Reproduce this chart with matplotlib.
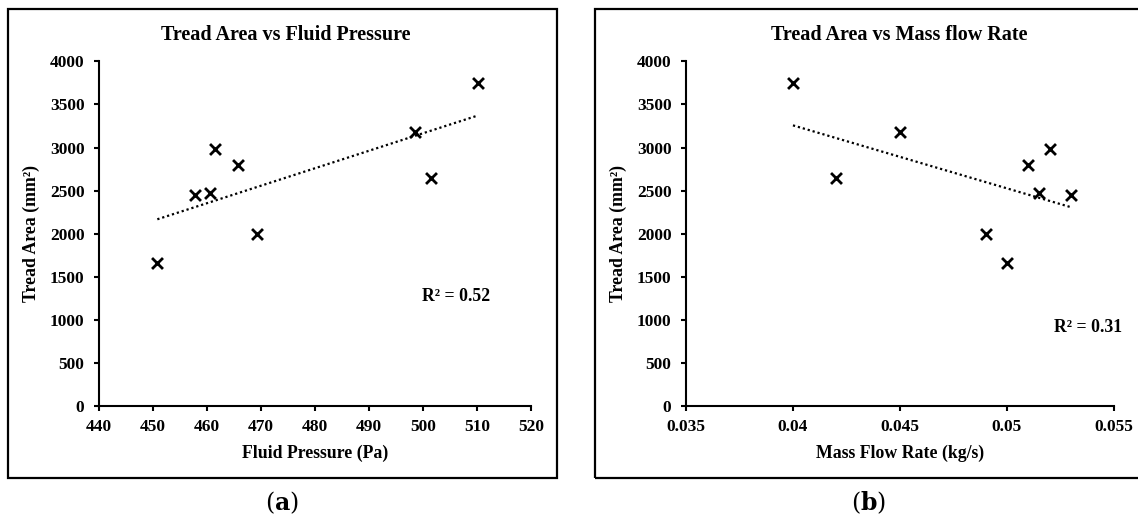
import matplotlib
matplotlib.use("Agg")
import matplotlib.pyplot as plt
import numpy as np
from matplotlib.patches import Rectangle

# values
tread_area = [1666, 2446, 2473, 2980, 2802, 2002, 3181, 2647, 3749]
fluid_pressure = [450.8, 457.7, 460.6, 461.5, 465.8, 469.3, 498.5, 501.5, 510.2]
mass_flow = [0.050, 0.053, 0.0515, 0.052, 0.051, 0.049, 0.045, 0.042, 0.040]

r2_pressure = "R² = 0.52"
r2_flow = "R² = 0.31"

plt.rcParams["font.family"] = ["Liberation Serif", "DejaVu Serif"]
plt.rcParams["font.weight"] = "bold"
plt.rcParams["axes.labelweight"] = "bold"
plt.rcParams["mathtext.fontset"] = "dejavuserif"


def draw_panel(fig, rect, frame, x, y, title, title_x, xlabel, xticks, xlim, r2_text, r2_pos, tag, tag_x):
    ax = fig.add_axes(rect)
    ax.scatter(x, y, marker="x", s=62, color="black", linewidths=2, zorder=3)

    # linear trend line over the data range
    coef = np.polyfit(x, y, 1)
    xs = np.array([min(x), max(x)])
    ax.plot(xs, np.polyval(coef, xs), color="black", lw=1.6, linestyle=(0, (1, 1.3)))

    ax.set_xlim(*xlim)
    ax.set_ylim(0, 4000)
    ax.set_xticks(xticks)
    ax.set_yticks(range(0, 4001, 500))
    ax.set_xticklabels([f"{t:g}" for t in xticks])
    for s in ("top", "right"):
        ax.spines[s].set_visible(False)
    for s in ("left", "bottom"):
        ax.spines[s].set_linewidth(1.5)
    ax.tick_params(direction="out", length=3.5, width=1.5, labelsize=12.5)
    ax.tick_params(axis="x", pad=6)
    ax.tick_params(axis="y", pad=7)
    for lab in ax.get_xticklabels() + ax.get_yticklabels():
        lab.set_fontweight("bold")

    ax.set_title(title, fontsize=14.5, fontweight="bold", x=title_x, y=1.0, pad=15.5)
    ax.set_xlabel(xlabel, fontsize=12.8)
    ax.set_ylabel("Tread Area (mm²)", fontsize=12.8)
    ax.xaxis.set_label_coords(0.5, -0.113)
    ax.yaxis.set_label_coords(-0.137, 0.5)
    ax.text(r2_pos[0], r2_pos[1], r2_text, transform=ax.transAxes, ha="center", va="center",
            fontsize=12.8, fontweight="bold")

    fig.patches.append(Rectangle((frame[0], frame[1]), frame[2], frame[3], transform=fig.transFigure,
                                 fill=False, edgecolor="black", lw=1.6))
    fig.text(tag_x, 0.033, "(" + r"$\mathbf{" + tag + "}$" + ")", ha="center", va="center",
             fontsize=17, family="DejaVu Serif", fontweight="normal")
    return ax


fig = plt.figure(figsize=(11.38, 5.2), dpi=100)

draw_panel(fig, [0.087, 0.219, 0.3796, 0.663], (0.007, 0.081, 0.4825, 0.902),
           fluid_pressure, tread_area, "Tread Area vs Fluid Pressure", 0.432, "Fluid Pressure (Pa)",
           list(range(440, 521, 10)), (440, 520), r2_pressure, (0.826, 0.319), "a", 0.248)

draw_panel(fig, [0.6028, 0.219, 0.376, 0.663], (0.5229, 0.081, 0.48, 0.902),
           mass_flow, tread_area, "Tread Area vs Mass flow Rate", 0.499, "Mass Flow Rate (kg/s)",
           [0.035, 0.04, 0.045, 0.05, 0.055], (0.035, 0.055), r2_flow, (0.939, 0.229), "b", 0.763)

fig.savefig("out.png", dpi=100)
